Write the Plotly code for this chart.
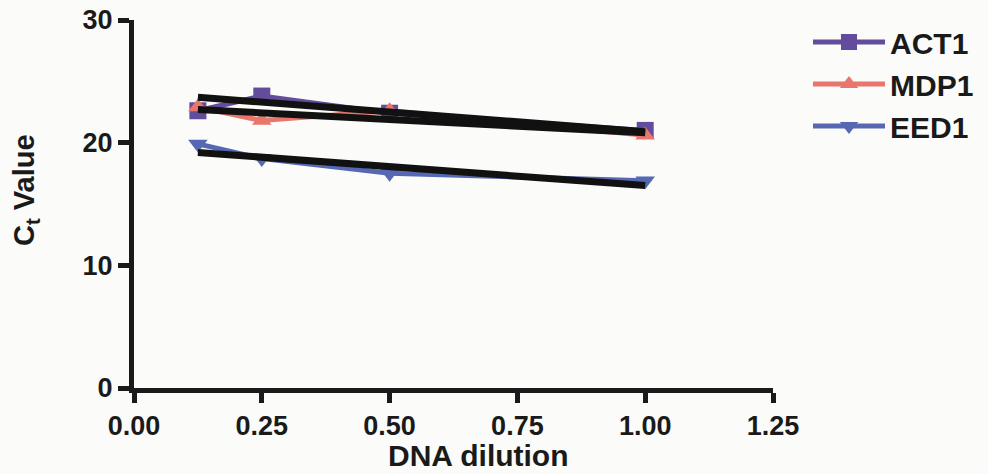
import plotly.graph_objects as go

# Data
dilution = [0.125, 0.25, 0.5, 1.0]
act1 = [22.6, 23.8, 22.4, 21.0]
mdp1 = [22.9, 21.8, 22.6, 20.6]
eed1 = [19.9, 18.7, 17.5, 16.9]

fit_x = [0.125, 1.0]
act1_fit = [23.7, 20.9]
mdp1_fit = [22.7, 20.8]
eed1_fit = [19.2, 16.5]

x_ticks = [0, 0.25, 0.5, 0.75, 1.0, 1.25]
y_ticks = [0, 10, 20, 30]

names = ["ACT1", "MDP1", "EED1"]
colors = ["#644c9c", "#e8766c", "#5668b4"]
symbols = ["square", "triangle-up", "triangle-down"]
series = [act1, mdp1, eed1]
fits = [act1_fit, mdp1_fit, eed1_fit]

W, H = 988, 474
L, R, T, B = 134, 215, 20, 86
pw, ph = W - L - R, H - T - B

def px_to_paper_x(px):
    return (px - L) / pw

def px_to_paper_y(py):
    return (H - B - py) / ph

fig = go.Figure()
for i, (n, c, s, y) in enumerate(zip(names, colors, symbols, series)):
    fig.add_trace(go.Scatter(
        x=dilution, y=y, name=n, mode="lines+markers",
        line=dict(color=c, width=5),
        marker=dict(symbol=s, size=17, color=c),
        legendgroup=n,
    ))
for f in fits:
    fig.add_trace(go.Scatter(
        x=fit_x, y=f, mode="lines", showlegend=False,
        line=dict(color="#111111", width=7),
    ))

FAM = "Arial, Liberation Sans, sans-serif"
bold = dict(family=FAM, size=27, color="#1a1a1a", weight="bold")

fig.update_layout(
    width=W, height=H,
    margin=dict(l=L, r=R, t=T, b=B, autoexpand=False),
    paper_bgcolor="#fbfbf9", plot_bgcolor="#fbfbf9",
    showlegend=True,
    legend=dict(
        x=px_to_paper_x(808), y=px_to_paper_y(16), xanchor="left", yanchor="top",
        font=dict(family=FAM, size=30, color="#1a1a1a", weight="bold"),
        itemwidth=72, tracegroupgap=0, bgcolor="rgba(0,0,0,0)",
    ),
    xaxis=dict(
        range=[0, 1.25], tickvals=x_ticks, tickformat=".2f",
        showgrid=False, zeroline=False, showline=True, linecolor="#1a1a1a", linewidth=5,
        ticks="outside", ticklen=10, tickwidth=5, tickcolor="#1a1a1a",
        tickfont=bold,
    ),
    yaxis=dict(
        range=[0, 30], tickvals=y_ticks,
        showgrid=False, zeroline=False, showline=True, linecolor="#1a1a1a", linewidth=5,
        ticks="outside", ticklen=11, tickwidth=5, tickcolor="#1a1a1a",
        tickfont=bold,
    ),
    annotations=[
        dict(text="DNA dilution", xref="paper", yref="paper",
             x=px_to_paper_x(478), y=px_to_paper_y(455), xanchor="center", yanchor="middle",
             showarrow=False, font=dict(family=FAM, size=30, color="#1a1a1a", weight="bold")),
        dict(text="C<sub>t</sub> Value", xref="paper", yref="paper", textangle=-90,
             x=px_to_paper_x(26), y=px_to_paper_y(190), xanchor="center", yanchor="middle",
             showarrow=False, font=dict(family=FAM, size=29, color="#1a1a1a", weight="bold")),
    ],
)

fig.write_html("out.html")
